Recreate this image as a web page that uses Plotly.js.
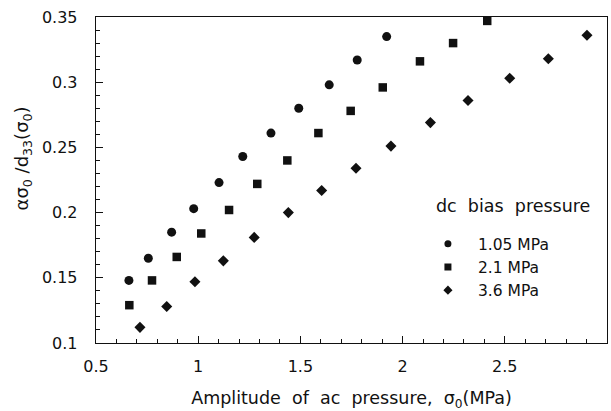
<!DOCTYPE html>
<html>
<head>
<meta charset="utf-8">
<script src="https://cdn.plot.ly/plotly-3.0.1.min.js"></script>
<style>html,body{margin:0;padding:0;background:#fff;}#chart{width:611px;height:411px;}</style>
</head>
<body>
<div id="chart"></div>
<script>
const seriesNames = ["1.05 MPa", "2.1 MPa", "3.6 MPa"];

const x105 = [0.661, 0.756, 0.870, 0.978, 1.102, 1.218, 1.356, 1.492, 1.641, 1.778, 1.922];
const y105 = [0.148, 0.165, 0.185, 0.203, 0.223, 0.243, 0.261, 0.280, 0.298, 0.317, 0.335];

const x21 = [0.663, 0.774, 0.895, 1.015, 1.151, 1.289, 1.436, 1.588, 1.746, 1.903, 2.085, 2.247, 2.414];
const y21 = [0.129, 0.148, 0.166, 0.184, 0.202, 0.222, 0.240, 0.261, 0.278, 0.296, 0.316, 0.330, 0.347];

const x36 = [0.715, 0.846, 0.984, 1.123, 1.274, 1.441, 1.604, 1.772, 1.943, 2.136, 2.320, 2.524, 2.713, 2.902];
const y36 = [0.112, 0.128, 0.147, 0.163, 0.181, 0.200, 0.217, 0.234, 0.251, 0.269, 0.286, 0.303, 0.318, 0.336];

const xTickVals = [0.5, 1, 1.5, 2, 2.5, 3];
const xTickText = ["0.5", "1", "1.5", "2", "2.5", "3"];
const yTickVals = [0.1, 0.15, 0.2, 0.25, 0.3, 0.35];
const yTickText = ["0.1", "0.15", "0.2", "0.25", "0.3", "0.35"];

const FONT = "DejaVu Sans, Liberation Sans, Arial, sans-serif";
const INK = "#111";
const SP = "\u00A0\u00A0";

const symbols = ["circle", "square", "diamond"];
const dataX = [x105, x21, x36];
const dataY = [y105, y21, y36];
const dataSizes = [9, 8.5, 8.5];

const traces = [];
for (let i = 0; i < 3; i++) {
  traces.push({x: dataX[i], y: dataY[i], name: seriesNames[i], type: "scatter", mode: "markers",
    showlegend: false, marker: {symbol: symbols[i], size: dataSizes[i], color: INK}});
}
// legend-only entries (smaller symbols, as in the reference key)
for (let i = 0; i < 3; i++) {
  traces.push({x: [null], y: [null], name: seriesNames[i], type: "scatter", mode: "markers",
    showlegend: true, marker: {symbol: symbols[i], size: 7, color: INK}});
}

const axisCommon = {
  showgrid: false, zeroline: false, showline: true, linecolor: INK, linewidth: 1.3,
  mirror: true, ticks: "inside", ticklen: 7, tickwidth: 1.2, tickcolor: INK,
  tickfont: {family: FONT, size: 16, color: INK}
};

const layout = {
  width: 611, height: 411,
  margin: {l: 96, r: 4, t: 17, b: 68},
  paper_bgcolor: "#fff", plot_bgcolor: "#fff",
  font: {family: FONT, color: INK},
  showlegend: true,
  legend: {x: 0.63, y: 0.355, xanchor: "left", yanchor: "top",
           bgcolor: "rgba(0,0,0,0)", itemwidth: 50, tracegroupgap: 0,
           font: {family: FONT, size: 15.5, color: INK}},
  xaxis: Object.assign({}, axisCommon, {
    range: [0.5, 3], tickmode: "array", tickvals: xTickVals, ticktext: xTickText,
    ticklabelstandoff: 8,
    minor: {dtick: 0.1, ticks: "inside", ticklen: 4, tickwidth: 1, tickcolor: INK},
    title: {text: "Amplitude" + SP + "of" + SP + "ac" + SP + "pressure," + SP + "σ<sub>0</sub>(MPa)",
            font: {family: FONT, size: 17.5, color: INK}, standoff: 17}
  }),
  yaxis: Object.assign({}, axisCommon, {
    range: [0.1, 0.35], tickmode: "array", tickvals: yTickVals, ticktext: yTickText,
    ticklabelstandoff: 14,
    minor: {dtick: 0.01, ticks: "inside", ticklen: 4, tickwidth: 1, tickcolor: INK}
  }),
  annotations: [
    {xref: "paper", yref: "paper", x: -0.141, y: 0.566, textangle: -90,
     text: "ασ<sub>0</sub>\u00A0/d<sub>33</sub>(σ<sub>0</sub>)", showarrow: false,
     xanchor: "center", yanchor: "middle", font: {family: FONT, size: 18, color: INK}},
    {xref: "paper", yref: "paper", x: 0.661, y: 0.42, xanchor: "left", yanchor: "middle",
     text: "dc" + SP + "bias" + SP + "pressure", showarrow: false,
     font: {family: FONT, size: 17.5, color: INK}}
  ]
};

Plotly.newPlot("chart", traces, layout, {displayModeBar: false, staticPlot: true});
</script>
</body>
</html>
